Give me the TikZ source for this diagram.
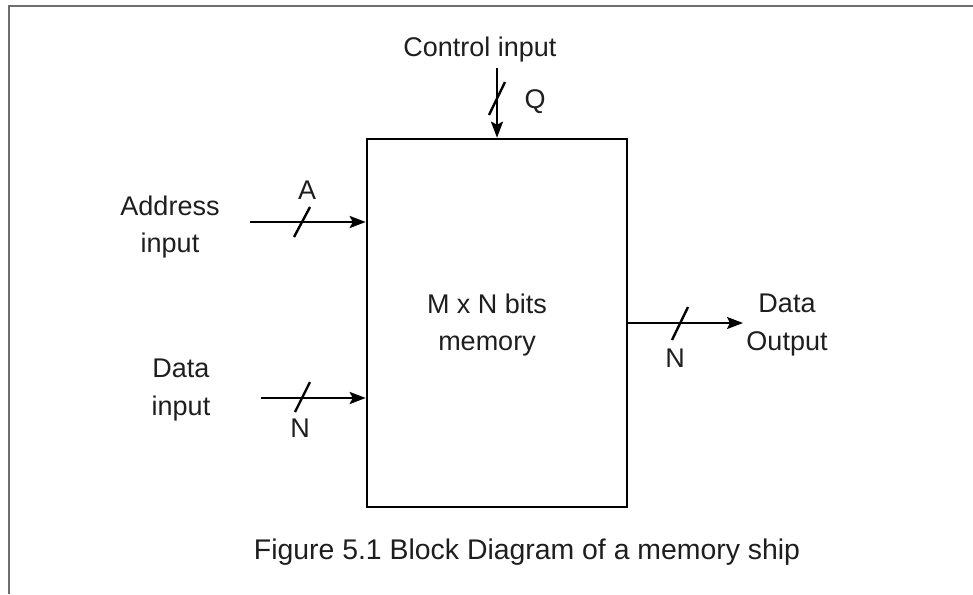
\documentclass[tikz,border=0pt]{standalone}
\usepackage{fontspec}
\setmainfont{Liberation Sans}
\usetikzlibrary{arrows.meta}
\definecolor{framegray}{RGB}{110,110,112}
\definecolor{ink}{RGB}{30,30,30}
\tikzset{
  lbl/.style={font=\fontsize{27}{37.5}\selectfont, text=ink, inner sep=0pt, align=center},
  captiontext/.style={font=\fontsize{28.4}{32}\selectfont, text=ink, inner sep=0pt},
  bus/.style={line width=2.4pt, draw=black, -{Stealth[length=16pt,width=12pt,inset=3pt]}},
  slash/.style={line width=2.4pt, draw=black},
  membox/.style={draw=black, line width=2.6pt, minimum width=260pt, minimum height=368pt, inner sep=0pt}
}
\begin{document}
\begin{tikzpicture}[x=1pt,y=-1pt]
\useasboundingbox (0,0) rectangle (973,594);
% frame
\draw[framegray, line width=2pt] (9,594) -- (9,6) -- (973,6);
% memory block
\node[membox] (mem) at (497,323) {};
\node[lbl] (memtxt) at (487,325) {M x N bits\\memory};
% control input
\node[lbl] (ctltxt) at (480,50) {Control input};
\coordinate (ctl) at (497,68);
\draw[bus] (ctl) -- (mem.north);
\coordinate (s1a) at (489,115); \coordinate (s1b) at (505,82);
\draw[slash] (s1a) -- (s1b);
\node[lbl] (q) at (535,102) {Q};
% address input
\node[lbl] (addrtxt) at (170,227) {Address\\input};
\coordinate (ain) at (250,222);
\draw[bus] (ain) -- (ain -| mem.west);
\coordinate (s2a) at (294,237); \coordinate (s2b) at (310,207);
\draw[slash] (s2a) -- (s2b);
\node[lbl] (a) at (307,190) {A};
% data input
\node[lbl] (dintxt) at (181,390) {Data\\input};
\coordinate (din) at (261,398);
\draw[bus] (din) -- (din -| mem.west);
\coordinate (s3a) at (295,412); \coordinate (s3b) at (310,382);
\draw[slash] (s3a) -- (s3b);
\node[lbl] (n1) at (300,428) {N};
% data output
\node[lbl] (douttxt) at (787,325) {Data\\Output};
\coordinate (dout) at (743,323);
\draw[bus] (mem.east) -- (dout);
\coordinate (s4a) at (672,340); \coordinate (s4b) at (688,307);
\draw[slash] (s4a) -- (s4b);
\node[lbl] (n2) at (675,358) {N};
% caption
\node[captiontext] (caption) at (527,552) {Figure 5.1 Block Diagram of a memory ship};
\end{tikzpicture}
\end{document}
